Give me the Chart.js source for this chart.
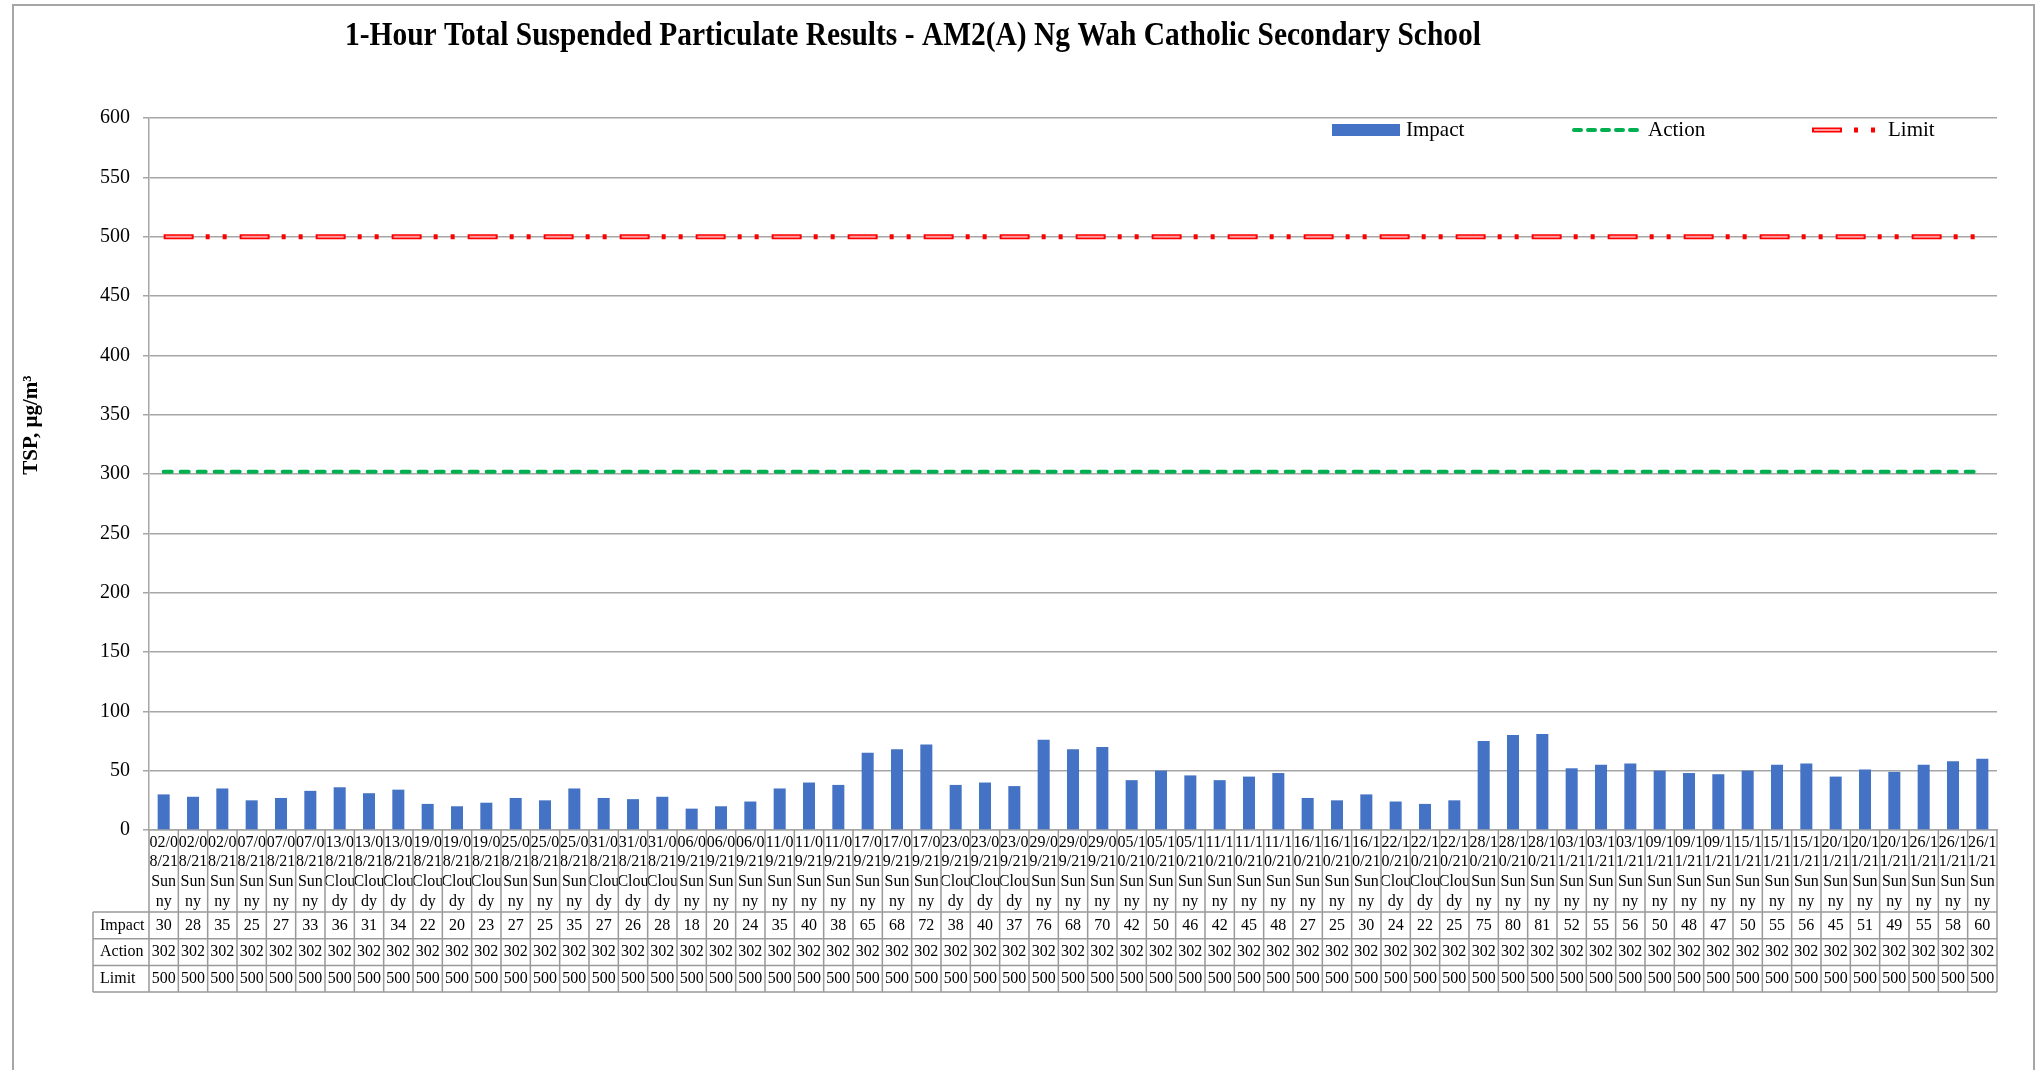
<!DOCTYPE html>
<html>
<head>
<meta charset="utf-8">
<title>1-Hour TSP Results - AM2(A)</title>
<script src="https://cdn.jsdelivr.net/npm/chart.js@4.4.1/dist/chart.umd.min.js"></script>
<style>
  html, body { margin: 0; padding: 0; background: #fff; }
  #wrap { width: 2040px; height: 1070px; }
</style>
</head>
<body>
<div id="wrap"><canvas id="tspChart" width="2040" height="1070"></canvas></div>
<script>
// --- Data ---
const sampleDates = [
  "02/08/21", "02/08/21", "02/08/21", "07/08/21", "07/08/21", "07/08/21",
  "13/08/21", "13/08/21", "13/08/21", "19/08/21", "19/08/21", "19/08/21",
  "25/08/21", "25/08/21", "25/08/21", "31/08/21", "31/08/21", "31/08/21",
  "06/09/21", "06/09/21", "06/09/21", "11/09/21", "11/09/21", "11/09/21",
  "17/09/21", "17/09/21", "17/09/21", "23/09/21", "23/09/21", "23/09/21",
  "29/09/21", "29/09/21", "29/09/21", "05/10/21", "05/10/21", "05/10/21",
  "11/10/21", "11/10/21", "11/10/21", "16/10/21", "16/10/21", "16/10/21",
  "22/10/21", "22/10/21", "22/10/21", "28/10/21", "28/10/21", "28/10/21",
  "03/11/21", "03/11/21", "03/11/21", "09/11/21", "09/11/21", "09/11/21",
  "15/11/21", "15/11/21", "15/11/21", "20/11/21", "20/11/21", "20/11/21",
  "26/11/21", "26/11/21", "26/11/21"
];

const weather = [
  "Sunny", "Sunny", "Sunny", "Sunny", "Sunny", "Sunny",
  "Cloudy", "Cloudy", "Cloudy", "Cloudy", "Cloudy", "Cloudy",
  "Sunny", "Sunny", "Sunny", "Cloudy", "Cloudy", "Cloudy",
  "Sunny", "Sunny", "Sunny", "Sunny", "Sunny", "Sunny",
  "Sunny", "Sunny", "Sunny", "Cloudy", "Cloudy", "Cloudy",
  "Sunny", "Sunny", "Sunny", "Sunny", "Sunny", "Sunny",
  "Sunny", "Sunny", "Sunny", "Sunny", "Sunny", "Sunny",
  "Cloudy", "Cloudy", "Cloudy", "Sunny", "Sunny", "Sunny",
  "Sunny", "Sunny", "Sunny", "Sunny", "Sunny", "Sunny",
  "Sunny", "Sunny", "Sunny", "Sunny", "Sunny", "Sunny",
  "Sunny", "Sunny", "Sunny"
];

const impact = [
  30, 28, 35, 25, 27, 33, 36, 31, 34, 22,
  20, 23, 27, 25, 35, 27, 26, 28, 18, 20,
  24, 35, 40, 38, 65, 68, 72, 38, 40, 37,
  76, 68, 70, 42, 50, 46, 42, 45, 48, 27,
  25, 30, 24, 22, 25, 75, 80, 81, 52, 55,
  56, 50, 48, 47, 50, 55, 56, 45, 51, 49,
  55, 58, 60
];

const action = [
  302, 302, 302, 302, 302, 302, 302, 302, 302, 302,
  302, 302, 302, 302, 302, 302, 302, 302, 302, 302,
  302, 302, 302, 302, 302, 302, 302, 302, 302, 302,
  302, 302, 302, 302, 302, 302, 302, 302, 302, 302,
  302, 302, 302, 302, 302, 302, 302, 302, 302, 302,
  302, 302, 302, 302, 302, 302, 302, 302, 302, 302,
  302, 302, 302
];

const limit = [
  500, 500, 500, 500, 500, 500, 500, 500, 500, 500,
  500, 500, 500, 500, 500, 500, 500, 500, 500, 500,
  500, 500, 500, 500, 500, 500, 500, 500, 500, 500,
  500, 500, 500, 500, 500, 500, 500, 500, 500, 500,
  500, 500, 500, 500, 500, 500, 500, 500, 500, 500,
  500, 500, 500, 500, 500, 500, 500, 500, 500, 500,
  500, 500, 500
];

const yTicks = [0, 50, 100, 150, 200, 250, 300, 350, 400, 450, 500, 550, 600];

const chartTitle = "1-Hour Total Suspended Particulate Results - AM2(A) Ng Wah Catholic Secondary School";
const yTitle = "TSP, \u00b5g/m\u00b3";

const SERIF = "'Liberation Serif', 'Times New Roman', serif";
const BLUE = "#4472C4";
const GREEN = "#00B050";
const RED = "#FF0000";
const PINK = "#FF9A9A";
const LIMIT_DASH = [30, 12, 4, 13, 4, 13];
const ACTION_DASH = [8, 9];

// header cells are narrow, so the text wraps inside them
const wrapAt = { Sunny: 3, Cloudy: 4 };
const labels = sampleDates.map((d, i) => {
  const w = weather[i];
  return [d.slice(0, 4), d.slice(4), w.slice(0, wrapAt[w]), w.slice(wrapAt[w])];
});

// --- frame, title, legend and the data table under the axis ---
const tablePlugin = {
  id: "dataTable",
  beforeDraw(chart) {
    const ctx = chart.ctx;
    ctx.save();
    ctx.fillStyle = "#fff";
    ctx.fillRect(0, 0, chart.width, chart.height);
    ctx.strokeStyle = "#a6a6a6";
    ctx.lineWidth = 2;
    ctx.strokeRect(13, 5, 2021, 1100);
    ctx.restore();
  },
  afterDraw(chart) {
    const { ctx, chartArea: area } = chart;
    const x = chart.scales.x;
    const half = (x.getPixelForValue(1) - x.getPixelForValue(0)) / 2;
    const headBottom = area.bottom + 82;
    const rowH = 26.7;
    const rows = [["Impact", impact], ["Action", action], ["Limit", limit]];
    const tableBottom = headBottom + rowH * rows.length;
    const labelLeft = 93;

    ctx.save();

    // grid of the table
    ctx.strokeStyle = "#999";
    ctx.lineWidth = 1.5;
    ctx.beginPath();
    for (let i = 0; i <= labels.length; i++) {
      const px = x.getPixelForValue(i) - half;
      ctx.moveTo(px, area.bottom);
      ctx.lineTo(px, tableBottom);
    }
    ctx.moveTo(labelLeft, headBottom);
    ctx.lineTo(labelLeft, tableBottom);
    for (let r = 0; r <= rows.length; r++) {
      const py = headBottom + rowH * r;
      ctx.moveTo(labelLeft, py);
      ctx.lineTo(area.right, py);
    }
    ctx.stroke();

    ctx.fillStyle = "#000";
    ctx.font = "16px " + SERIF;
    ctx.textBaseline = "middle";
    rows.forEach(([name, vals], r) => {
      const cy = headBottom + rowH * (r + 0.5);
      ctx.textAlign = "left";
      ctx.fillText(name, labelLeft + 7, cy);
      ctx.textAlign = "center";
      vals.forEach((v, i) => ctx.fillText(String(v), x.getPixelForValue(i), cy));
    });

    // chart title, set in a narrow bold face
    ctx.save();
    ctx.font = "bold 33px " + SERIF;
    ctx.textAlign = "center";
    const tw = ctx.measureText(chartTitle).width;
    ctx.translate(913, 36);
    ctx.scale(1136 / tw, 1);
    ctx.fillText(chartTitle, 0, 0);
    ctx.restore();

    // y axis title
    ctx.save();
    ctx.translate(32, 425);
    ctx.rotate(-Math.PI / 2);
    ctx.textAlign = "center";
    ctx.font = "bold 21px " + SERIF;
    ctx.fillText(yTitle, 0, 0);
    ctx.restore();

    // legend
    const ly = 130;
    ctx.fillStyle = BLUE;
    ctx.fillRect(1332, ly - 6, 68, 12);

    ctx.strokeStyle = GREEN;
    ctx.lineWidth = 4;
    ctx.lineCap = "round";
    ctx.setLineDash([7, 7]);
    ctx.beginPath();
    ctx.moveTo(1574, ly);
    ctx.lineTo(1640, ly);
    ctx.stroke();

    ctx.lineCap = "butt";
    ctx.strokeStyle = RED;
    ctx.lineWidth = 5;
    ctx.setLineDash(LIMIT_DASH);
    ctx.beginPath();
    ctx.moveTo(1812, ly);
    ctx.lineTo(1876, ly);
    ctx.stroke();
    ctx.strokeStyle = PINK;
    ctx.lineWidth = 2;
    ctx.setLineDash([]);
    ctx.beginPath();
    ctx.moveTo(1814, ly);
    ctx.lineTo(1840, ly);
    ctx.stroke();

    ctx.fillStyle = "#000";
    ctx.font = "21px " + SERIF;
    ctx.textAlign = "left";
    ctx.fillText("Impact", 1406, ly);
    ctx.fillText("Action", 1648, ly);
    ctx.fillText("Limit", 1888, ly);

    ctx.restore();
  }
};

// --- Chart ---
const canvas = document.getElementById("tspChart");

new Chart(canvas, {
  type: "bar",
  data: {
    labels,
    datasets: [
      {
        type: "bar",
        label: "Impact",
        data: impact,
        backgroundColor: BLUE,
        barPercentage: 0.41,
        categoryPercentage: 1.0,
        order: 4
      },
      {
        type: "line",
        label: "Action",
        data: action,
        borderColor: GREEN,
        borderWidth: 4,
        borderDash: ACTION_DASH,
        borderCapStyle: "round",
        pointRadius: 0,
        fill: false,
        order: 3
      },
      {
        type: "line",
        label: "Limit",
        data: limit,
        borderColor: RED,
        borderWidth: 5,
        borderDash: LIMIT_DASH,
        pointRadius: 0,
        fill: false,
        order: 2
      },
      {
        // light core of the limit dashes
        type: "line",
        label: "Limit",
        data: limit,
        borderColor: PINK,
        borderWidth: 2,
        borderDash: [26, 50],
        borderDashOffset: 74,
        pointRadius: 0,
        fill: false,
        order: 1
      }
    ]
  },
  options: {
    responsive: false,
    animation: false,
    devicePixelRatio: 1,
    layout: { padding: { top: 118, left: 0, right: 43, bottom: 78 } },
    plugins: {
      legend: { display: false },
      title: { display: false },
      tooltip: { enabled: false }
    },
    scales: {
      x: {
        grid: { display: false, drawTicks: false },
        border: { display: true, color: "#a6a6a6", width: 1.5 },
        ticks: {
          autoSkip: false,
          maxRotation: 0,
          minRotation: 0,
          padding: 3,
          color: "#000",
          font: { family: SERIF, size: 16, lineHeight: 1.22 }
        },
        afterFit(scale) { scale.height = 162; }
      },
      y: {
        min: 0,
        max: 600,
        afterBuildTicks(scale) { scale.ticks = yTicks.map(v => ({ value: v })); },
        grid: { color: "#a6a6a6", lineWidth: 1.5, tickLength: 6 },
        border: { display: true, color: "#a6a6a6", width: 1.5 },
        ticks: {
          padding: 13,
          color: "#000",
          font: { family: SERIF, size: 20 }
        },
        afterFit(scale) { scale.width = 149; }
      }
    }
  },
  plugins: [tablePlugin]
});
</script>
</body>
</html>
